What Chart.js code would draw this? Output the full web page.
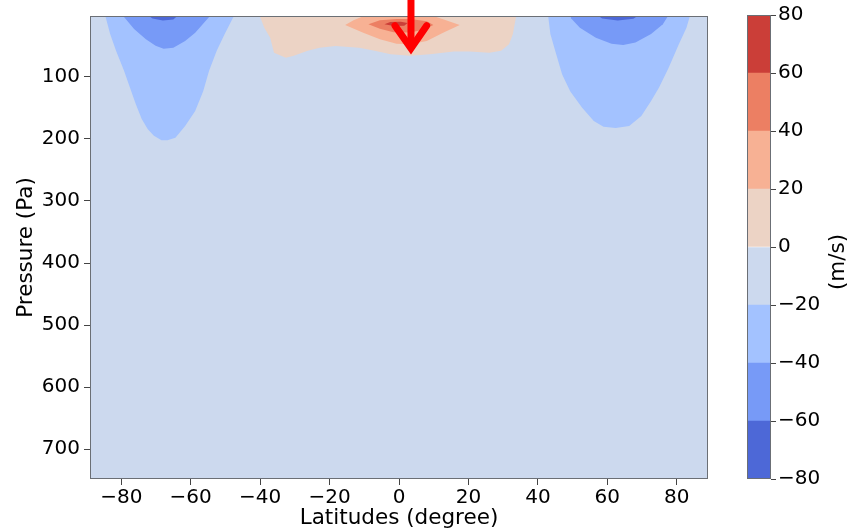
<!DOCTYPE html>
<html>
<head>
<meta charset="utf-8">
<script src="https://cdn.jsdelivr.net/npm/chart.js@4/dist/chart.umd.min.js"></script>
<style>
  html, body { margin: 0; padding: 0; background: #fff; }
  #wrap { position: relative; width: 850px; height: 531px; }
  #main { position: absolute; left: 0; top: 0; }
  #cbar { position: absolute; left: 740px; top: 0; }
</style>
</head>
<body>
<div id="wrap">
  <canvas id="main" width="740" height="531"></canvas>
  <canvas id="cbar" width="110" height="531"></canvas>
</div>
<script>
// ---------------- data ----------------
const LAT_RANGE = [-89, 89];
const P_RANGE = [1.9, 748];
const X_TICKS = [-80, -60, -40, -20, 0, 20, 40, 60, 80];
const Y_TICKS = [100, 200, 300, 400, 500, 600, 700];
const LEVELS = [-80, -60, -40, -20, 0, 20, 40, 60, 80];
const LEVEL_COLORS = ['#4d68d7', '#779af7', '#a3c2ff', '#ccd9ee', '#ecd3c5', '#f7b194', '#ec7f63', '#cb3e38'];
const X_TITLE = 'Latitudes (degree)';
const Y_TITLE = 'Pressure (Pa)';
const CBAR_TITLE = '(m/s)';

// contour regions [latitude, pressure]
// band -20..0 covers the whole domain
const REGION_BG = [[-89, 0], [89, 0], [89, 748], [-89, 748], [-89, 0]];
// wind < -20
const REGION_LT_M20_S = [[-84.5, 0], [-84.5, 3.5], [-83.2, 31], [-81.5, 58], [-79.2, 90], [-77.5, 117], [-75.8, 144], [-74.1, 168], [-72.4, 184], [-70.6, 195], [-68.4, 202], [-66.7, 202], [-64.4, 198], [-61.6, 179], [-58.7, 155], [-56.4, 123], [-54.7, 90], [-52.5, 58], [-50.2, 31], [-47.7, 3.5], [-47.7, 0]];
const REGION_LT_M20_N = [[43.0, 0], [43.0, 3.5], [43.6, 31], [45.3, 64], [47.0, 96], [49.3, 123], [52.7, 149.5], [56.1, 171], [58.9, 180.5], [62.4, 182.5], [66.3, 179], [69.8, 163], [72.6, 139], [74.9, 117], [77.7, 85], [80.6, 47.4], [82.8, 20.7], [83.7, 3.5], [83.7, 0]];
// wind < -40
const REGION_LT_M40_S = [[-79.2, 0], [-79.2, 3.5], [-76.3, 23], [-72.9, 39.4], [-70.1, 50], [-67.8, 54.5], [-65, 53], [-61.6, 42], [-58.7, 29], [-54.7, 3.5], [-54.7, 0]];
const REGION_LT_M40_N = [[49.3, 0], [49.6, 6], [52.1, 20.7], [56.7, 36.8], [61.2, 46.5], [64.6, 48.5], [68.1, 44.8], [72.6, 31], [76.0, 15.3], [77.7, 0]];
// wind < -60
const REGION_LT_M60_S = [[-72.5, 0], [-71, 6], [-68, 9], [-65, 7.5], [-63.5, 0]];
const REGION_LT_M60_N = [[57, 0], [58.5, 6], [63, 9], [67.5, 6.5], [69.2, 0]];
// wind > 0
const REGION_GT_0 = [[-40, 0], [-40, 3.5], [-38.8, 20.7], [-37.1, 36.8], [-36, 61], [-32.6, 69], [-30.3, 66], [-26.3, 58], [-22.9, 52.9], [-18.3, 50.2], [-11.5, 52.9], [-7, 58], [-2.4, 63.5], [3.2, 66], [8.9, 63.5], [15.8, 59.3], [20.3, 59.3], [26, 61], [29.4, 58], [31.7, 47.4], [32.8, 31], [33.7, 3.5], [33.7, 0]];
// wind > 20
const REGION_GT_20 = [[-15.5, 16.4], [-13.1, 8.8], [-9.3, 0], [8.9, 0], [12.7, 7.3], [17.5, 16.4], [12.7, 28.7], [8, 42.1], [3.2, 47.4], [-0.7, 46.5], [-5.5, 39.4], [-10.3, 28.7], [-15.5, 16.4]];
// wind > 40
const REGION_GT_40 = [[-8.8, 15.2], [-5.5, 8.8], [-0.7, 6.8], [3.2, 6.8], [8, 10.5], [9.9, 16.4], [7.0, 24], [3.2, 28.5], [-1.6, 28], [-5.5, 22.5], [-8.8, 15.2]];
// wind > 60
const REGION_GT_60 = [[-4.2, 15], [-2.5, 11.5], [0.5, 11], [2.5, 13], [1.5, 17.5], [-1.5, 18], [-4.2, 15]];

// red arrow annotation [latitude, pressure]
const ARROW_SHAFT = [[3.45, -25], [3.45, 54]];
const ARROW_HEAD = [[-1.15, 17.5], [3.45, 54], [7.96, 17.5]];

// ---------------- helpers ----------------
const FONT = 'DejaVu Sans';
const fmt = v => (v < 0 ? '\u2212' + Math.abs(v) : String(v));
const toPts = arr => arr.map(([x, y]) => ({x, y}));

const regions = [
  [REGION_BG, 3],
  [REGION_LT_M20_S, 2], [REGION_LT_M20_N, 2],
  [REGION_LT_M40_S, 1], [REGION_LT_M40_N, 1],
  [REGION_LT_M60_S, 0], [REGION_LT_M60_N, 0],
  [REGION_GT_0, 4], [REGION_GT_20, 5], [REGION_GT_40, 6], [REGION_GT_60, 7]
];

const datasets = regions.map(([pts, ci]) => ({
  data: toPts(pts),
  showLine: true,
  fill: 'shape',
  backgroundColor: LEVEL_COLORS[ci],
  borderColor: LEVEL_COLORS[ci],
  borderWidth: 0,
  pointRadius: 0,
  tension: 0
})).reverse(); // first dataset is drawn on top

const framePlugin = {
  id: 'frame',
  afterDatasetsDraw(chart) {
    const {ctx, chartArea: a} = chart;
    ctx.save();
    ctx.strokeStyle = '#6b6f75';
    ctx.lineWidth = 1;
    ctx.strokeRect(Math.round(a.left) + 0.5, Math.round(a.top) + 0.5, Math.round(a.right - a.left) - 1, Math.round(a.bottom - a.top) - 1);
    ctx.restore();
  }
};

const arrowPlugin = {
  id: 'arrow',
  afterDraw(chart) {
    const {ctx, scales: {x, y}} = chart;
    const P = ([a, b]) => [x.getPixelForValue(a), y.getPixelForValue(b)];
    ctx.save();
    ctx.strokeStyle = '#ff0000';
    ctx.lineWidth = 7;
    ctx.lineCap = 'butt';
    ctx.beginPath();
    const s0 = P(ARROW_SHAFT[0]), s1 = P(ARROW_SHAFT[1]);
    ctx.moveTo(s0[0], s0[1]);
    ctx.lineTo(s1[0], s1[1]);
    ctx.stroke();
    ctx.lineCap = 'round';
    ctx.lineJoin = 'miter';
    ctx.miterLimit = 10;
    ctx.beginPath();
    ARROW_HEAD.forEach((pt, i) => {
      const q = P(pt);
      if (i === 0) ctx.moveTo(q[0], q[1]); else ctx.lineTo(q[0], q[1]);
    });
    ctx.stroke();
    ctx.restore();
  }
};

new Chart(document.getElementById('main'), {
  type: 'scatter',
  data: {datasets},
  options: {
    responsive: false,
    animation: false,
    devicePixelRatio: 1,
    layout: {padding: {top: 15, right: 32, left: 0, bottom: 0}},
    plugins: {legend: {display: false}, tooltip: {enabled: false}},
    elements: {line: {borderWidth: 0}},
    scales: {
      x: {
        type: 'linear',
        min: LAT_RANGE[0], max: LAT_RANGE[1],
        afterBuildTicks: s => { s.ticks = X_TICKS.map(v => ({value: v})); },
        afterFit: s => { s.height = 52; },
        grid: {display: true, drawOnChartArea: false, drawTicks: true, tickLength: 6, tickColor: '#444'},
        border: {display: false},
        ticks: {font: {family: FONT, size: 20}, color: '#000', padding: 1, maxRotation: 0, autoSkip: false, callback: fmt},
        title: {display: true, text: X_TITLE, font: {family: FONT, size: 21.5}, color: '#000', padding: {top: 0, bottom: 0}}
      },
      y: {
        type: 'linear',
        reverse: true,
        min: P_RANGE[0], max: P_RANGE[1],
        afterBuildTicks: s => { s.ticks = Y_TICKS.map(v => ({value: v})); },
        afterFit: s => { s.width = 90; },
        grid: {display: true, drawOnChartArea: false, drawTicks: true, tickLength: 6, tickColor: '#444'},
        border: {display: false},
        ticks: {font: {family: FONT, size: 20}, color: '#000', padding: 4, autoSkip: false, callback: fmt},
        title: {display: true, text: Y_TITLE, font: {family: FONT, size: 21.5}, color: '#000', padding: {top: 14, bottom: 0}}
      }
    }
  },
  plugins: [framePlugin, arrowPlugin]
});

// ---------------- colour bar ----------------
const cbarDatasets = LEVEL_COLORS.map((c, i) => ({
  data: [[LEVELS[i], LEVELS[i + 1]]],
  backgroundColor: c,
  borderWidth: 0,
  barPercentage: 1,
  categoryPercentage: 1,
  grouped: false
}));

const cbarTitlePlugin = {
  id: 'cbarTitle',
  afterDraw(chart) {
    const {ctx, chartArea: a} = chart;
    ctx.save();
    ctx.font = '21.5px "' + FONT + '"';
    ctx.fillStyle = '#000';
    ctx.textAlign = 'center';
    ctx.textBaseline = 'middle';
    ctx.translate(98, (a.top + a.bottom) / 2 + 15);
    ctx.rotate(-Math.PI / 2);
    ctx.fillText(CBAR_TITLE, 0, 0);
    ctx.restore();
  }
};

new Chart(document.getElementById('cbar'), {
  type: 'bar',
  data: {labels: [''], datasets: cbarDatasets},
  options: {
    responsive: false,
    animation: false,
    devicePixelRatio: 1,
    layout: {padding: {top: 15, left: 7, right: 0, bottom: 52}},
    plugins: {legend: {display: false}, tooltip: {enabled: false}},
    scales: {
      x: {display: false},
      y: {
        position: 'right',
        min: LEVELS[0], max: LEVELS[LEVELS.length - 1],
        afterBuildTicks: s => { s.ticks = LEVELS.map(v => ({value: v})); },
        afterFit: s => { s.width = 79; },
        grid: {display: true, drawOnChartArea: false, drawTicks: true, tickLength: 5, tickColor: '#444'},
        border: {display: false},
        ticks: {font: {family: FONT, size: 20}, color: '#000', padding: 2, autoSkip: false, callback: fmt}
      }
    }
  },
  plugins: [framePlugin, cbarTitlePlugin]
});
</script>
</body>
</html>
